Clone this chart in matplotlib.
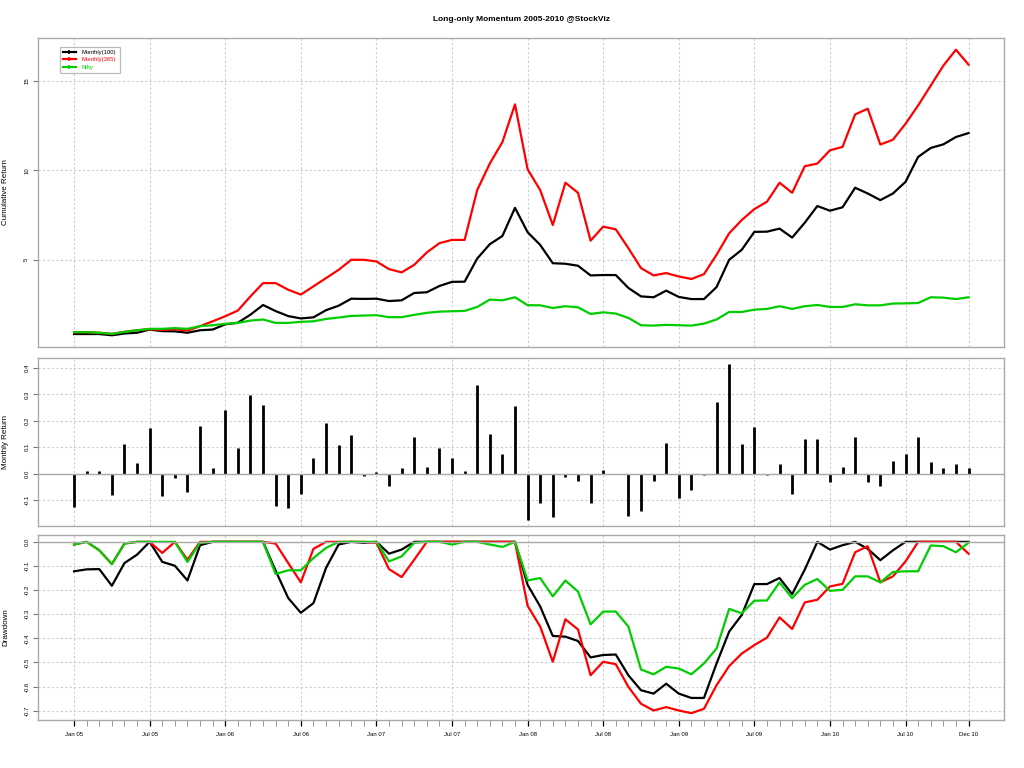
import numpy as np
import matplotlib
matplotlib.use("Agg")
import matplotlib.pyplot as plt
from matplotlib.lines import Line2D
from matplotlib.ticker import FixedLocator

plt.rcParams['font.family'] = ['Liberation Sans', 'DejaVu Sans']

# monthly data, Jan 2005 .. Dec 2010 (72 months)
tick_pos = [0, 6, 12, 18, 24, 30, 36, 42, 48, 54, 60, 66, 71]
tick_labels = ["Jan 05", "Jul 05", "Jan 06", "Jul 06", "Jan 07", "Jul 07", "Jan 08",
               "Jul 08", "Jan 09", "Jul 09", "Jan 10", "Jul 10", "Dec 10"]
series_names = ["Monthly(100)", "Monthly(365)", "Nifty"]

cum_100 = [0.86, 0.86, 0.86, 0.79, 0.89, 0.93, 1.11, 1.02, 1.01, 0.93, 1.07, 1.11,
           1.40, 1.49, 1.94, 2.48, 2.14, 1.86, 1.73, 1.79, 2.19, 2.44, 2.83, 2.82,
           2.83, 2.70, 2.74, 3.15, 3.19, 3.54, 3.77, 3.78, 5.07, 5.87, 6.33, 7.90,
           6.54, 5.83, 4.81, 4.78, 4.67, 4.13, 4.15, 4.15, 3.43, 2.96, 2.91, 3.28,
           2.93, 2.81, 2.81, 3.48, 5.00, 5.56, 6.56, 6.57, 6.74, 6.24, 7.07, 8.00,
           7.74, 7.93, 9.02, 8.70, 8.33, 8.70, 9.35, 10.74, 11.24, 11.44, 11.85, 12.07]
cum_365 = [0.96, 0.96, 0.93, 0.87, 0.98, 1.07, 1.13, 1.08, 1.13, 1.05, 1.30, 1.57,
           1.85, 2.17, 2.96, 3.70, 3.70, 3.33, 3.06, 3.52, 3.98, 4.44, 5.00, 5.00,
           4.91, 4.48, 4.30, 4.72, 5.41, 5.93, 6.11, 6.11, 8.89, 10.37, 11.57, 13.67,
           10.05, 8.89, 6.94, 9.30, 8.74, 6.07, 6.85, 6.70, 5.65, 4.54, 4.13, 4.26,
           4.07, 3.93, 4.20, 5.28, 6.48, 7.22, 7.83, 8.24, 9.30, 8.74, 10.22, 10.37,
           11.11, 11.30, 13.11, 13.43, 11.43, 11.70, 12.59, 13.61, 14.72, 15.83, 16.72, 15.89]
cum_nifty = [0.96, 0.96, 0.93, 0.87, 0.98, 1.07, 1.15, 1.15, 1.19, 1.15, 1.30, 1.35,
             1.43, 1.48, 1.61, 1.67, 1.48, 1.48, 1.54, 1.57, 1.70, 1.78, 1.87, 1.89,
             1.91, 1.80, 1.80, 1.93, 2.04, 2.11, 2.13, 2.15, 2.37, 2.78, 2.74, 2.91,
             2.47, 2.46, 2.31, 2.41, 2.35, 1.98, 2.07, 2.00, 1.76, 1.35, 1.33, 1.37,
             1.35, 1.33, 1.44, 1.67, 2.09, 2.09, 2.22, 2.26, 2.41, 2.26, 2.41, 2.48,
             2.37, 2.37, 2.52, 2.46, 2.46, 2.56, 2.57, 2.59, 2.91, 2.89, 2.81, 2.91]

monthly_ret = [-0.125, 0.009, 0.009, -0.081, 0.114, 0.039, 0.174, -0.085, -0.018, -0.070, 0.182, 0.020,
               0.242, 0.099, 0.298, 0.261, -0.123, -0.130, -0.076, 0.058, 0.193, 0.110, 0.148, -0.010,
               0.005, -0.048, 0.020, 0.140, 0.024, 0.099, 0.061, 0.009, 0.336, 0.152, 0.073, 0.257,
               -0.174, -0.110, -0.163, -0.013, -0.028, -0.110, 0.013, 0.0, -0.159, -0.140, -0.028, 0.118,
               -0.091, -0.061, -0.005, 0.272, 0.415, 0.114, 0.178, -0.005, 0.035, -0.076, 0.133, 0.133,
               -0.031, 0.024, 0.137, -0.031, -0.046, 0.050, 0.073, 0.137, 0.046, 0.020, 0.035, 0.020]

dd_100 = [-0.122, -0.114, -0.113, -0.182, -0.088, -0.053, 0, -0.083, -0.099, -0.160, -0.014, 0,
          0, 0, 0, 0, -0.120, -0.233, -0.294, -0.254, -0.108, -0.011, 0, -0.004,
          0, -0.049, -0.032, 0, 0, 0, 0, 0, 0, 0, 0, 0,
          -0.178, -0.268, -0.390, -0.393, -0.411, -0.479, -0.469, -0.467, -0.553, -0.615, -0.629, -0.588,
          -0.629, -0.647, -0.647, -0.504, -0.372, -0.303, -0.175, -0.175, -0.150, -0.217, -0.115, 0,
          -0.032, -0.014, 0, -0.029, -0.076, -0.035, 0, 0, 0, 0, 0, 0]
dd_365 = [-0.011, 0, -0.035, -0.092, -0.007, 0, 0, -0.046, 0, -0.074, 0, 0,
          0, 0, 0, 0, -0.007, -0.088, -0.168, -0.029, 0, 0, 0, 0,
          -0.004, -0.113, -0.146, -0.074, 0, 0, 0, 0, 0, 0, 0, 0,
          -0.265, -0.351, -0.497, -0.321, -0.363, -0.553, -0.497, -0.507, -0.601, -0.671, -0.699, -0.685,
          -0.699, -0.710, -0.692, -0.594, -0.515, -0.463, -0.428, -0.397, -0.313, -0.361, -0.251, -0.240,
          -0.185, -0.174, -0.043, -0.018, -0.168, -0.143, -0.081, 0, 0, 0, 0, -0.049]
dd_nifty = [-0.011, 0, -0.035, -0.092, -0.007, 0, 0, 0, 0, -0.083, -0.004, 0,
            0, 0, 0, 0, -0.133, -0.118, -0.118, -0.067, -0.025, 0, 0, 0,
            0, -0.081, -0.060, -0.004, 0, 0, -0.011, 0, 0, -0.011, -0.021, 0,
            -0.160, -0.150, -0.226, -0.160, -0.206, -0.342, -0.289, -0.289, -0.351, -0.529, -0.549, -0.518,
            -0.525, -0.549, -0.504, -0.442, -0.278, -0.296, -0.244, -0.243, -0.168, -0.233, -0.178, -0.154,
            -0.203, -0.199, -0.143, -0.143, -0.168, -0.125, -0.122, -0.122, -0.015, -0.018, -0.043, -0.004]

colors = ["black", "#ff0000", "#00cd00"]
months = np.arange(len(cum_100))
box_col = "#aaaaaa"
grid_col = "#cccccc"


def style_axis(ax, yticks, ylabels, ylab):
    for s in ax.spines.values():
        s.set_color(box_col)
        s.set_linewidth(1)
    ax.set_xlim(-0.04 * 71, 71 * 1.04)
    ax.set_xticks(tick_pos)
    ax.set_yticks(yticks)
    ax.set_yticklabels(ylabels, rotation=90, va="center", fontsize=4.3)
    ax.tick_params(axis="y", length=3.5, width=0.8, color="#777777", pad=3)
    ax.grid(True, color=grid_col, linestyle=(0, (2, 2)), linewidth=0.8)
    ax.set_axisbelow(True)
    ax.set_ylabel(ylab, fontsize=5.8)
    ax.yaxis.set_label_coords(-0.030, 0.5)


fig = plt.figure(figsize=(10.24, 7.68), dpi=100)
L, W = 38.3 / 1024, 966 / 1024
ax1 = fig.add_axes([L, 1 - 346.7 / 768, W, 308.4 / 768])
ax2 = fig.add_axes([L, 1 - 526 / 768, W, 168.3 / 768])
ax3 = fig.add_axes([L, 1 - 720 / 768, W, 185 / 768])

# cumulative return
for vals, c in zip([cum_100, cum_365, cum_nifty], colors):
    ax1.plot(months, vals, color=c, lw=1.6)
ax1.margins(y=0.04)
style_axis(ax1, [5, 10, 15], ["5", "10", "15"], "Cumulative Return")
ax1.tick_params(axis="x", length=0, labelbottom=False)

handles = [Line2D([], [], color=c, lw=1.6, marker="+", markersize=3.5, markeredgewidth=1.2)
           for c in colors]
leg = ax1.legend(handles, series_names, loc="upper left", bbox_to_anchor=(0.019, 0.982),
                 fontsize=4.2, frameon=True, fancybox=False, edgecolor=box_col,
                 handlelength=2.2, labelspacing=0.35, borderpad=0.6, handletextpad=1.0)
leg.get_frame().set_linewidth(0.9)
for t, c in zip(leg.get_texts(), colors):
    t.set_color(c)

# monthly return
ax2.vlines(months, 0, monthly_ret, color="black", lw=2)
ax2.axhline(0, color=box_col, lw=1)
ax2.margins(y=0.04)
style_axis(ax2, [-0.1, 0.0, 0.1, 0.2, 0.3, 0.4],
           ["-0.1", "0.0", "0.1", "0.2", "0.3", "0.4"], "Monthly Return")
ax2.tick_params(axis="x", length=0, labelbottom=False)

# drawdown
for vals, c in zip([dd_100, dd_365, dd_nifty], colors):
    ax3.plot(months, vals, color=c, lw=1.6)
ax3.axhline(0, color=box_col, lw=1)
ax3.margins(y=0.04)
dd_ticks = [0.0, -0.1, -0.2, -0.3, -0.4, -0.5, -0.6, -0.7]
style_axis(ax3, dd_ticks, ["%.1f" % v for v in dd_ticks], "Drawdown")
ax3.set_xticklabels(tick_labels, fontsize=4.3)
ax3.xaxis.set_minor_locator(FixedLocator(months))
ax3.tick_params(axis="x", which="major", length=4, width=0.9, color="black", pad=5)
ax3.tick_params(axis="x", which="minor", length=4, width=0.7, color="#999999")

fig.text(0.509, 0.975, "Long-only Momentum 2005-2010 @StockViz", ha="center", va="center",
         fontsize=6, fontweight="bold")

fig.savefig("out.png", dpi=100)
